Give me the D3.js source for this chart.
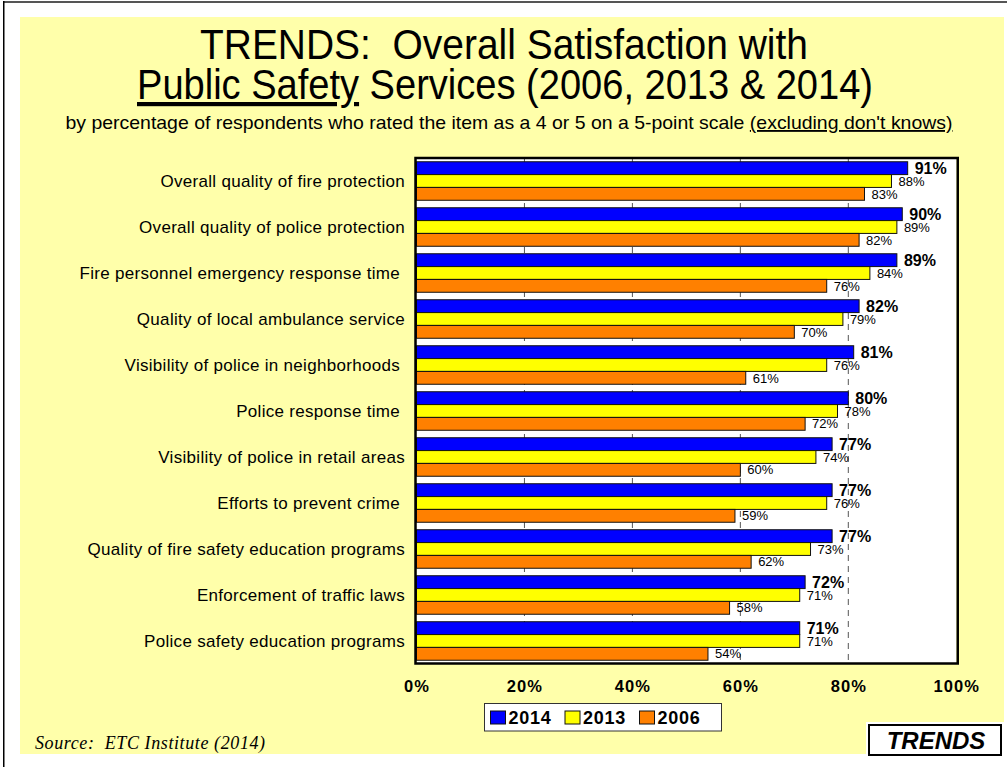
<!DOCTYPE html>
<html>
<head>
<meta charset="utf-8">
<script src="https://cdn.jsdelivr.net/npm/d3@7"></script>
<style>
  html, body { margin: 0; padding: 0; background: #fff; }
  svg { display: block; font-family: Arial, "Liberation Sans", Helvetica, sans-serif; }
</style>
</head>
<body>
<svg id="chart" width="1007" height="767"></svg>
<script>
// Survey items (top to bottom) and percent satisfied per survey year
const categories = [
  "Overall quality of fire protection",
  "Overall quality of police protection",
  "Fire personnel emergency response time ",
  "Quality of local ambulance service",
  "Visibility of police in neighborhoods ",
  "Police response time ",
  "Visibility of police in retail areas",
  "Efforts to prevent crime ",
  "Quality of fire safety education programs",
  "Enforcement of traffic laws",
  "Police safety education programs"
];
const values2014 = [91, 90, 89, 82, 81, 80, 77, 77, 77, 72, 71];
const values2013 = [88, 89, 84, 79, 76, 78, 74, 76, 73, 71, 71];
const values2006 = [83, 82, 76, 70, 61, 72, 60, 59, 62, 58, 54];
const seriesNames = ["2014", "2013", "2006"];
const seriesColors = ["#0000FF", "#FFFF00", "#FF8000"];
const tickValues = [0, 20, 40, 60, 80, 100];
const gridValues = [20, 40, 60, 80];

const seriesValues = [values2014, values2013, values2006];

const svg = d3.select("#chart");

// slide frame and background
svg.append("rect").attr("x", 3).attr("y", 1).attr("width", 1004).attr("height", 2).attr("fill", "#555");
svg.append("rect").attr("x", 3).attr("y", 1).attr("width", 1.5).attr("height", 766).attr("fill", "#000");
svg.append("rect").attr("x", 20).attr("y", 17).attr("width", 984).attr("height", 737).attr("fill", "#FFFFAA");

// title block
const title = svg.append("g").attr("text-anchor", "middle").attr("fill", "#000");
title.append("text")
  .attr("x", 504).attr("y", 59)
  .attr("font-size", 42)
  .attr("textLength", 608).attr("lengthAdjust", "spacingAndGlyphs")
  .style("white-space", "pre")
  .text("TRENDS:  Overall Satisfaction with");
const t2 = title.append("text")
  .attr("x", 505).attr("y", 99)
  .attr("font-size", 42)
  .attr("textLength", 736).attr("lengthAdjust", "spacingAndGlyphs");
t2.append("tspan").style("text-decoration", "underline").text("Public Safety");
t2.append("tspan").text(" Services (2006, 2013 & 2014)");
const sub = title.append("text")
  .attr("x", 509).attr("y", 129)
  .attr("font-size", 18.5)
  .attr("textLength", 887).attr("lengthAdjust", "spacingAndGlyphs");
sub.append("tspan").text("by percentage of respondents who rated the item as a 4 or 5 on a 5-point scale ");
sub.append("tspan").style("text-decoration", "underline").text("(excluding don't knows)");

// plot geometry
const plot = { left: 416.5, right: 956.25, top: 159, bottom: 663 };

const x = d3.scaleLinear().domain([0, 100]).range([plot.left, plot.right]);
const y = d3.scaleBand().domain(categories).range([plot.top, plot.bottom])
  .paddingInner(0.163).paddingOuter(0.06);
const ySeries = d3.scaleBand().domain(seriesNames).range([0, y.bandwidth()]);

// plot background
svg.append("rect")
  .attr("x", plot.left).attr("y", plot.top)
  .attr("width", plot.right - plot.left).attr("height", plot.bottom - plot.top)
  .attr("fill", "#fff");

// dashed vertical gridlines
svg.append("g").selectAll("line").data(gridValues).join("line")
  .attr("x1", d => x(d)).attr("x2", d => x(d))
  .attr("y1", plot.top).attr("y2", plot.bottom)
  .attr("stroke", "#555").attr("stroke-width", 1)
  .attr("stroke-dasharray", "6,5");

// bars
const rows = categories.map((c, i) => ({
  category: c,
  items: seriesNames.map((s, k) => ({ series: s, k, value: seriesValues[k][i] }))
}));

const groups = svg.append("g").selectAll("g").data(rows).join("g")
  .attr("transform", d => `translate(0,${y(d.category)})`);

groups.selectAll("rect").data(d => d.items).join("rect")
  .attr("x", x(0))
  .attr("y", d => ySeries(d.series))
  .attr("width", d => x(d.value) - x(0))
  .attr("height", ySeries.bandwidth())
  .attr("fill", d => seriesColors[d.k])
  .attr("stroke", "#111").attr("stroke-width", 1);

// value labels
groups.selectAll("text").data(d => d.items).join("text")
  .attr("x", d => x(d.value) + 7)
  .attr("y", d => ySeries(d.series) + ySeries.bandwidth() / 2)
  .attr("dy", "0.36em")
  .attr("font-size", d => d.k === 0 ? 16 : 13)
  .attr("font-weight", d => d.k === 0 ? "bold" : "normal")
  .attr("fill", "#000")
  .text(d => d.value + "%");

// plot frame
svg.append("rect")
  .attr("x", plot.left - 1).attr("y", plot.top - 1)
  .attr("width", plot.right - plot.left + 2.5).attr("height", plot.bottom - plot.top + 1.5)
  .attr("fill", "none").attr("stroke", "#000").attr("stroke-width", 2.5);

// category axis labels
svg.append("g").selectAll("text").data(categories).join("text")
  .attr("x", 405)
  .attr("y", d => y(d) + y.bandwidth() / 2)
  .attr("dy", "0.36em")
  .attr("text-anchor", "end")
  .attr("font-size", 17)
  .attr("letter-spacing", 0.3)
  .style("white-space", "pre")
  .attr("fill", "#000")
  .text(d => d);

// value axis
const xAxis = d3.axisBottom(x).tickValues(tickValues).tickFormat(d => d + "%").tickSize(0).tickPadding(0);
const axisG = svg.append("g").attr("transform", `translate(0,${plot.bottom + 17})`).call(xAxis);
axisG.select(".domain").remove();
axisG.selectAll("text")
  .style("font-family", "Arial, 'Liberation Sans', sans-serif")
  .attr("font-size", 16.5)
  .attr("font-weight", "bold")
  .attr("letter-spacing", 1.1)
  .attr("fill", "#000");

// legend
const legend = svg.append("g");
legend.append("rect")
  .attr("x", 484.5).attr("y", 703.5).attr("width", 237).attr("height", 27.5)
  .attr("fill", "#fff").attr("stroke", "#333").attr("stroke-width", 1);
const li = legend.selectAll("g").data(seriesNames).join("g")
  .attr("transform", (d, i) => `translate(${490.5 + i * 74.5},711)`);
li.append("rect").attr("width", 15).attr("height", 13)
  .attr("fill", (d, i) => seriesColors[i]).attr("stroke", "#111").attr("stroke-width", 1);
li.append("text").attr("x", 18).attr("y", 6.5).attr("dy", "0.36em")
  .attr("font-size", 18).attr("font-weight", "bold").attr("letter-spacing", 0.7)
  .attr("fill", "#000")
  .text(d => d);

// source note
svg.append("text")
  .attr("x", 35).attr("y", 743).attr("dy", "0.35em")
  .style("font-family", "'Times New Roman', 'Liberation Serif', serif")
  .attr("font-style", "italic").attr("font-size", 18).attr("letter-spacing", 0.6)
  .style("white-space", "pre")
  .attr("fill", "#000")
  .text("Source:  ETC Institute (2014)");

// section tag
svg.append("rect").attr("x", 866).attr("y", 722).attr("width", 138).attr("height", 35).attr("fill", "#fff");
svg.append("rect")
  .attr("x", 869).attr("y", 725).attr("width", 132).attr("height", 30)
  .attr("fill", "#fff").attr("stroke", "#000").attr("stroke-width", 2);
svg.append("text")
  .attr("x", 936).attr("y", 740).attr("dy", "0.36em")
  .attr("text-anchor", "middle")
  .attr("font-size", 24).attr("font-weight", "bold").attr("font-style", "italic")
  .attr("fill", "#000")
  .text("TRENDS");
</script>
</body>
</html>
